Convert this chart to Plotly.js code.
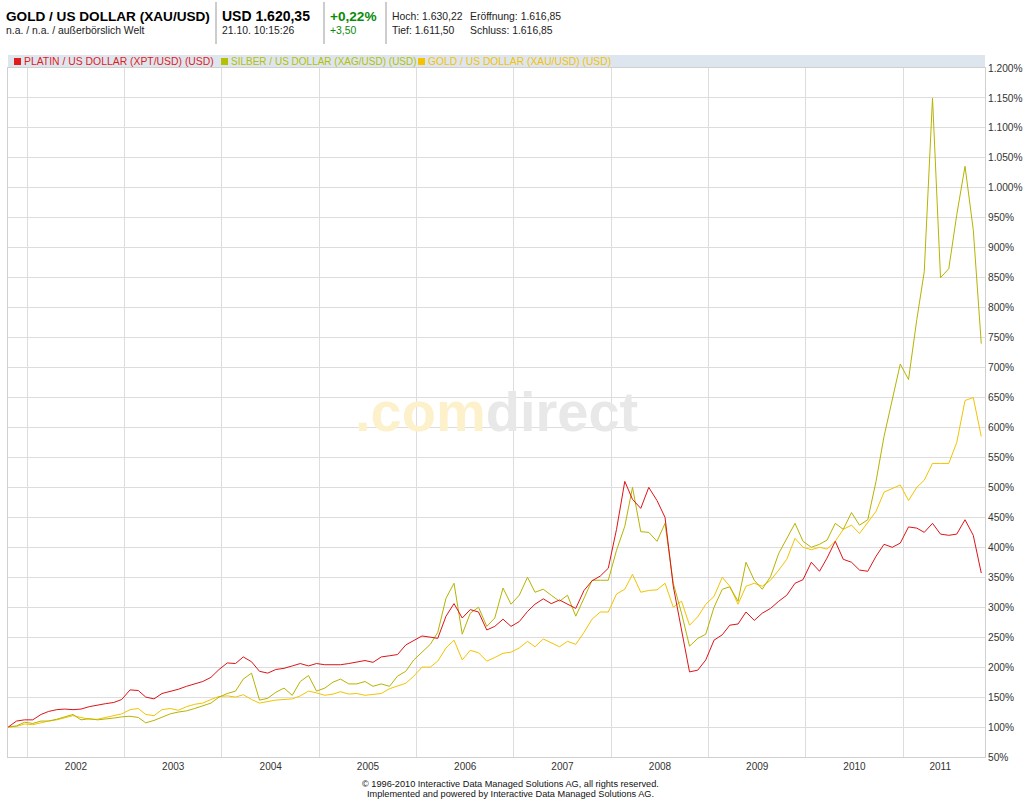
<!DOCTYPE html>
<html>
<head>
<meta charset="utf-8">
<script src="https://cdn.plot.ly/plotly-3.0.1.min.js"></script>
<style>
  html, body { margin: 0; padding: 0; background: #fff; }
  #chart { width: 1024px; height: 800px; }
</style>
</head>
<body>
<div id="chart"></div>
<script>
// monthly closing points, Oct 2001 - Oct 2011 (indexed, start = 100%)
const dates = [
  '2001-10-21', '2001-11-21', '2001-12-21',
  '2002-01-21', '2002-02-21', '2002-03-21', '2002-04-21', '2002-05-21', '2002-06-21', '2002-07-21', '2002-08-21', '2002-09-21', '2002-10-21', '2002-11-21', '2002-12-21',
  '2003-01-21', '2003-02-21', '2003-03-21', '2003-04-21', '2003-05-21', '2003-06-21', '2003-07-21', '2003-08-21', '2003-09-21', '2003-10-21', '2003-11-21', '2003-12-21',
  '2004-01-21', '2004-02-21', '2004-03-21', '2004-04-21', '2004-05-21', '2004-06-21', '2004-07-21', '2004-08-21', '2004-09-21', '2004-10-21', '2004-11-21', '2004-12-21',
  '2005-01-21', '2005-02-21', '2005-03-21', '2005-04-21', '2005-05-21', '2005-06-21', '2005-07-21', '2005-08-21', '2005-09-21', '2005-10-21', '2005-11-21', '2005-12-21',
  '2006-01-21', '2006-02-21', '2006-03-21', '2006-04-21', '2006-05-21', '2006-06-21', '2006-07-21', '2006-08-21', '2006-09-21', '2006-10-21', '2006-11-21', '2006-12-21',
  '2007-01-21', '2007-02-21', '2007-03-21', '2007-04-21', '2007-05-21', '2007-06-21', '2007-07-21', '2007-08-21', '2007-09-21', '2007-10-21', '2007-11-21', '2007-12-21',
  '2008-01-21', '2008-02-21', '2008-03-21', '2008-04-21', '2008-05-21', '2008-06-21', '2008-07-21', '2008-08-21', '2008-09-21', '2008-10-21', '2008-11-21', '2008-12-21',
  '2009-01-21', '2009-02-21', '2009-03-21', '2009-04-21', '2009-05-21', '2009-06-21', '2009-07-21', '2009-08-21', '2009-09-21', '2009-10-21', '2009-11-21', '2009-12-21',
  '2010-01-21', '2010-02-21', '2010-03-21', '2010-04-21', '2010-05-21', '2010-06-21', '2010-07-21', '2010-08-21', '2010-09-21', '2010-10-21', '2010-11-21', '2010-12-21',
  '2011-01-21', '2011-02-21', '2011-03-21', '2011-04-21', '2011-05-21', '2011-06-21', '2011-07-21', '2011-08-21', '2011-09-21', '2011-10-21'
];

const platin = [
  100, 110, 112,
  112, 121, 126, 129, 130, 129, 130, 134, 137, 139, 141, 146,
  162, 161, 150, 147, 156, 159, 163, 168, 172, 176, 183, 196,
  207, 206, 217, 209, 193, 190, 196, 198, 202, 206, 202, 206,
  204, 204, 204, 206, 208, 211, 208, 217, 219, 221, 237, 244,
  252, 250, 248, 285, 306, 282, 296, 292, 262, 268, 280, 268,
  276, 293, 305, 314, 306, 312, 305, 298, 328, 344, 352, 365,
  430, 510, 480, 465, 500, 478, 450, 335, 262, 192, 195, 212,
  245, 254, 270, 272, 292, 278, 290, 298, 310, 320, 340, 346,
  375, 360, 382, 410, 380, 375, 362, 360, 385, 405, 400, 407,
  434, 432, 425, 440, 422, 420, 422, 446, 420, 357
];

const silber = [
  100, 102, 108,
  106, 110, 110, 113, 117, 121, 112, 114, 112, 113, 115, 117,
  118, 116, 107, 111, 117, 122, 125, 127, 131, 135, 140, 150,
  156, 160, 180, 190, 145, 148, 158, 165, 153, 176, 186, 160,
  165, 175, 180, 172, 172, 176, 168, 172, 168, 185, 193, 212,
  225, 238, 258, 315, 340, 255, 290, 300, 268, 282, 332, 305,
  320, 350, 325, 330, 320, 310, 320, 285, 315, 345, 345, 345,
  395, 435, 500, 426, 425, 410, 440, 340, 290, 235, 248, 255,
  300, 330, 334, 310, 375, 345, 330, 351, 390, 415, 440, 410,
  400, 405, 412, 440, 430, 458, 437, 446, 510, 585, 645, 706,
  680, 780, 860, 1150, 850, 865, 955, 1036, 930, 740
];

const gold = [
  100, 101, 105,
  104, 107, 110, 112, 115, 119, 116, 113, 113, 116, 118, 122,
  129, 131, 121, 119, 129, 131, 128, 134, 138, 140, 146, 151,
  152, 150, 154, 146, 140, 143, 145, 146, 147, 152, 160, 157,
  153, 155, 159, 155, 156, 153, 154, 156, 164, 168, 173, 185,
  200, 200, 210, 232, 245, 212, 228, 224, 210, 216, 223, 225,
  232, 243, 234, 247, 240, 234, 243, 238, 258, 280, 292, 292,
  322, 330, 355, 325, 328, 329, 340, 300, 310, 270, 284, 305,
  318, 350, 335, 305, 335, 340, 335, 345, 362, 380, 415, 400,
  396, 400, 397, 410, 430, 437, 423, 442, 460, 492, 498, 504,
  478, 500, 512, 540, 540, 540, 575, 645, 650, 585
];

const seriesNames = [
  'PLATIN / US DOLLAR (XPT/USD) (USD)',
  'SILBER / US DOLLAR (XAG/USD) (USD)',
  'GOLD / US DOLLAR (XAU/USD) (USD)'
];
const seriesColors = ['#dc1418', '#b7b300', '#f2c400'];
const legendColors = ['#e31b1b', '#b4c000', '#f5c200'];

const yearGrid = ['2002-01-01', '2003-01-01', '2004-01-01', '2005-01-01', '2006-01-01',
  '2007-01-01', '2008-01-01', '2009-01-01', '2010-01-01', '2011-01-01'];
const yearLabelPos = ['2002-07-02', '2003-07-02', '2004-07-02', '2005-07-02', '2006-07-02',
  '2007-07-02', '2008-07-02', '2009-07-02', '2010-07-02', '2011-05-20'];
const yearLabels = ['2002', '2003', '2004', '2005', '2006', '2007', '2008', '2009', '2010', '2011'];

// plot box in page pixels, used to place header text
const L = 8, R = 985, T = 68, B = 757;
const px = (x) => (x - L) / (R - L);
const py = (y) => (B - y) / (B - T);

const FONT = 'Liberation Sans, Arial, sans-serif';

const traces = [
  { x: dates, y: gold, name: seriesNames[2], line: { color: seriesColors[2], width: 1 } },
  { x: dates, y: silber, name: seriesNames[1], line: { color: seriesColors[1], width: 1 } },
  // platinum sits on the label axis x2 (same range as x), so it is drawn on top
  { x: dates, y: platin, name: seriesNames[0], xaxis: 'x2', line: { color: seriesColors[0], width: 1 } },
].map((t) => ({ ...t, type: 'scatter', mode: 'lines', hoverinfo: 'skip' }));

function txt(x, y, text, size, color, bold, anchor) {
  return {
    xref: 'paper', yref: 'paper', x: px(x), y: py(y),
    xanchor: anchor || 'left', yanchor: 'middle', showarrow: false,
    text: bold ? '<b>' + text + '</b>' : text,
    font: { family: FONT, size: size, color: color },
  };
}

const annotations = [
  txt(4, 16, 'GOLD / US DOLLAR (XAU/USD)', 13.6, '#000', true),
  txt(4, 31, 'n.a. / n.a. / außerbörslich Welt', 10.4, '#222'),
  txt(220, 16, 'USD 1.620,35', 14, '#000', true),
  txt(220, 31, '21.10. 10:15:26', 10.4, '#222'),
  txt(328, 16, '+0,22%', 13.6, '#0a8a0a', true),
  txt(328, 31, '+3,50', 10.4, '#0a8a0a'),
  txt(390, 17, 'Hoch: 1.630,22', 10.4, '#222'),
  txt(468, 17, 'Eröffnung: 1.616,85', 10.4, '#222'),
  txt(390, 31, 'Tief: 1.611,50', 10.4, '#222'),
  txt(468, 31, 'Schluss: 1.616,85', 10.4, '#222'),
  txt(22, 61, seriesNames[0], 10.4, legendColors[0]),
  txt(229, 61, seriesNames[1], 10, legendColors[1]),
  txt(426, 61, seriesNames[2], 10.3, legendColors[2]),
  txt(510, 784, '© 1996-2010 Interactive Data Managed Solutions AG, all rights reserved.', 9.2, '#111', false, 'center'),
  txt(510, 794, 'Implemented and powered by Interactive Data Managed Solutions AG.', 9.2, '#111', false, 'center'),
  {
    xref: 'paper', yref: 'paper', x: px(497), y: py(411), xanchor: 'center', yanchor: 'middle',
    showarrow: false,
    text: '<b><span style="color:#fdf1cc">.com</span><span style="color:#e8e8e8">direct</span></b>',
    font: { family: FONT, size: 56 },
  },
];

const shapes = [
  // legend bar
  { type: 'rect', xref: 'paper', yref: 'paper', x0: 0, x1: 1, y0: py(55), y1: 1,
    fillcolor: '#dde6ef', line: { width: 0 }, layer: 'below' },
  // header separators
  ...[216, 324, 386].map((x) => ({
    type: 'line', xref: 'paper', yref: 'paper', x0: px(x), x1: px(x), y0: py(2), y1: py(44),
    line: { color: '#9a9a9a', width: 1 },
  })),
  // legend colour squares
  ...[14, 221, 418].map((x, i) => ({
    type: 'rect', xref: 'paper', yref: 'paper', x0: px(x), x1: px(x + 7), y0: py(65), y1: py(58),
    fillcolor: legendColors[i], line: { width: 0 },
  })),
];

const xRange = ['2001-10-20', '2011-11-04'];

const layout = {
  width: 1024,
  height: 800,
  margin: { l: L, r: 1024 - R, t: T, b: 800 - B, pad: 0 },
  paper_bgcolor: '#fff',
  plot_bgcolor: '#fff',
  separators: ',.',
  showlegend: false,
  font: { family: FONT, size: 10, color: '#333' },
  xaxis: {
    type: 'date',
    range: xRange,
    tickvals: yearGrid,
    showticklabels: false,
    ticks: '',
    showgrid: true,
    gridcolor: '#dddddd',
    zeroline: false,
    showline: true,
    mirror: true,
    linecolor: '#d0d0d0',
  },
  xaxis2: {
    type: 'date',
    overlaying: 'x',
    side: 'bottom',
    range: xRange,
    tickvals: yearLabelPos,
    ticktext: yearLabels,
    ticks: '',
    ticklabelstandoff: 2,
    showgrid: false,
    zeroline: false,
    tickfont: { family: FONT, size: 10, color: '#333' },
  },
  yaxis: {
    side: 'right',
    range: [50, 1200],
    tick0: 50,
    dtick: 50,
    tickformat: ',d',
    ticksuffix: '%',
    ticks: '',
    showgrid: true,
    gridcolor: '#dddddd',
    zeroline: false,
    showline: true,
    mirror: true,
    linecolor: '#d0d0d0',
    tickfont: { family: FONT, size: 10.2, color: '#333' },
  },
  annotations: annotations,
  shapes: shapes,
};

Plotly.newPlot('chart', traces, layout, { displayModeBar: false, staticPlot: true });
</script>
</body>
</html>
